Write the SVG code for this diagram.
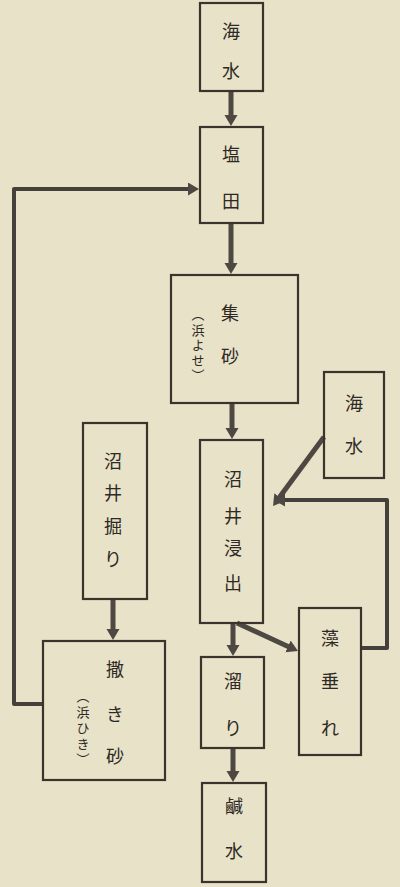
<svg xmlns="http://www.w3.org/2000/svg" width="400" height="887" viewBox="0 0 400 887">
<defs>
<style>
.box{fill:none;stroke:#3a342d;stroke-width:2.2}
.t{font-family:"Noto Sans CJK JP","Noto Sans CJK SC",sans-serif;font-size:18px;fill:#2e2924;text-anchor:middle;dominant-baseline:central}
.p{font-family:"Noto Sans CJK JP","Noto Sans CJK SC",sans-serif;font-size:13px;fill:#2e2924;writing-mode:vertical-rl}
.c{fill:none;stroke:#4d4842;stroke-width:5;marker-end:url(#ah)}
.l{fill:none;stroke:#45403a;stroke-width:4;stroke-linejoin:round;marker-end:url(#ah)}
</style>
<marker id="ah" markerUnits="userSpaceOnUse" markerWidth="12" markerHeight="14" refX="3" refY="6.5" orient="auto">
<path d="M0,0 L11,6.5 L0,13 z" fill="#4d4842"/>
</marker>
</defs>
<rect width="400" height="887" fill="#e7e2c8"/>
<g id="connectors">
<line class="c" x1="231" y1="91" x2="231" y2="118"/>
<line class="c" x1="231" y1="223" x2="231" y2="266"/>
<line class="c" x1="232" y1="403" x2="232" y2="431"/>
<line class="c" x1="233" y1="623" x2="233" y2="648"/>
<line class="c" x1="233" y1="748" x2="233" y2="774"/>
<line class="c" x1="113" y1="599" x2="113" y2="632"/>
<path class="l" d="M42,704 H14 V189 H191"/>
<line class="c" x1="237" y1="623" x2="290.7" y2="647.7"/>
<line class="c" x1="324" y1="437" x2="277.8" y2="499.6"/>
<path class="l" d="M361,648 H387 V500 H282"/>
</g>
<g id="kaisui1"><rect class="box" x="200" y="3" width="63" height="88"/><text class="t" x="231" y="30">海</text><text class="t" x="231" y="70">水</text></g>
<g id="enden"><rect class="box" x="200" y="127" width="63" height="96"/><text class="t" x="231" y="153">塩</text><text class="t" x="231" y="200">田</text></g>
<g id="shusa"><rect class="box" x="171" y="275" width="127" height="128"/><text class="t" x="230" y="312">集</text><text class="t" x="230" y="355">砂</text>
<text class="p" x="198" y="308" textLength="74" lengthAdjust="spacing">（浜よせ）</text></g>
<g id="numaishinshutsu"><rect class="box" x="200" y="440" width="63" height="183"/><text class="t" x="233" y="478">沼</text><text class="t" x="233" y="515">井</text><text class="t" x="233" y="547">浸</text><text class="t" x="233" y="582">出</text></g>
<g id="kaisui2"><rect class="box" x="324" y="372" width="60" height="106"/><text class="t" x="354" y="402">海</text><text class="t" x="354" y="445">水</text></g>
<g id="modare"><rect class="box" x="299" y="608" width="62" height="147"/><text class="t" x="330" y="637">藻</text><text class="t" x="330" y="680">垂</text><text class="t" x="330" y="727">れ</text></g>
<g id="tamari"><rect class="box" x="201" y="657" width="63" height="91"/><text class="t" x="233" y="680">溜</text><text class="t" x="233" y="727">り</text></g>
<g id="kansui"><rect class="box" x="202" y="783" width="64" height="99"/><text class="t" x="234" y="805">鹹</text><text class="t" x="234" y="850">水</text></g>
<g id="numaihori"><rect class="box" x="83" y="423" width="64" height="176"/><text class="t" x="113" y="460">沼</text><text class="t" x="113" y="492">井</text><text class="t" x="113" y="525">掘</text><text class="t" x="113" y="558">り</text></g>
<g id="makisuna"><rect class="box" x="43" y="641" width="122" height="139"/><text class="t" x="115" y="668">撒</text><text class="t" x="115" y="713">き</text><text class="t" x="115" y="755">砂</text>
<text class="p" x="83" y="690" textLength="76" lengthAdjust="spacing">（浜ひき）</text></g>
</svg>
